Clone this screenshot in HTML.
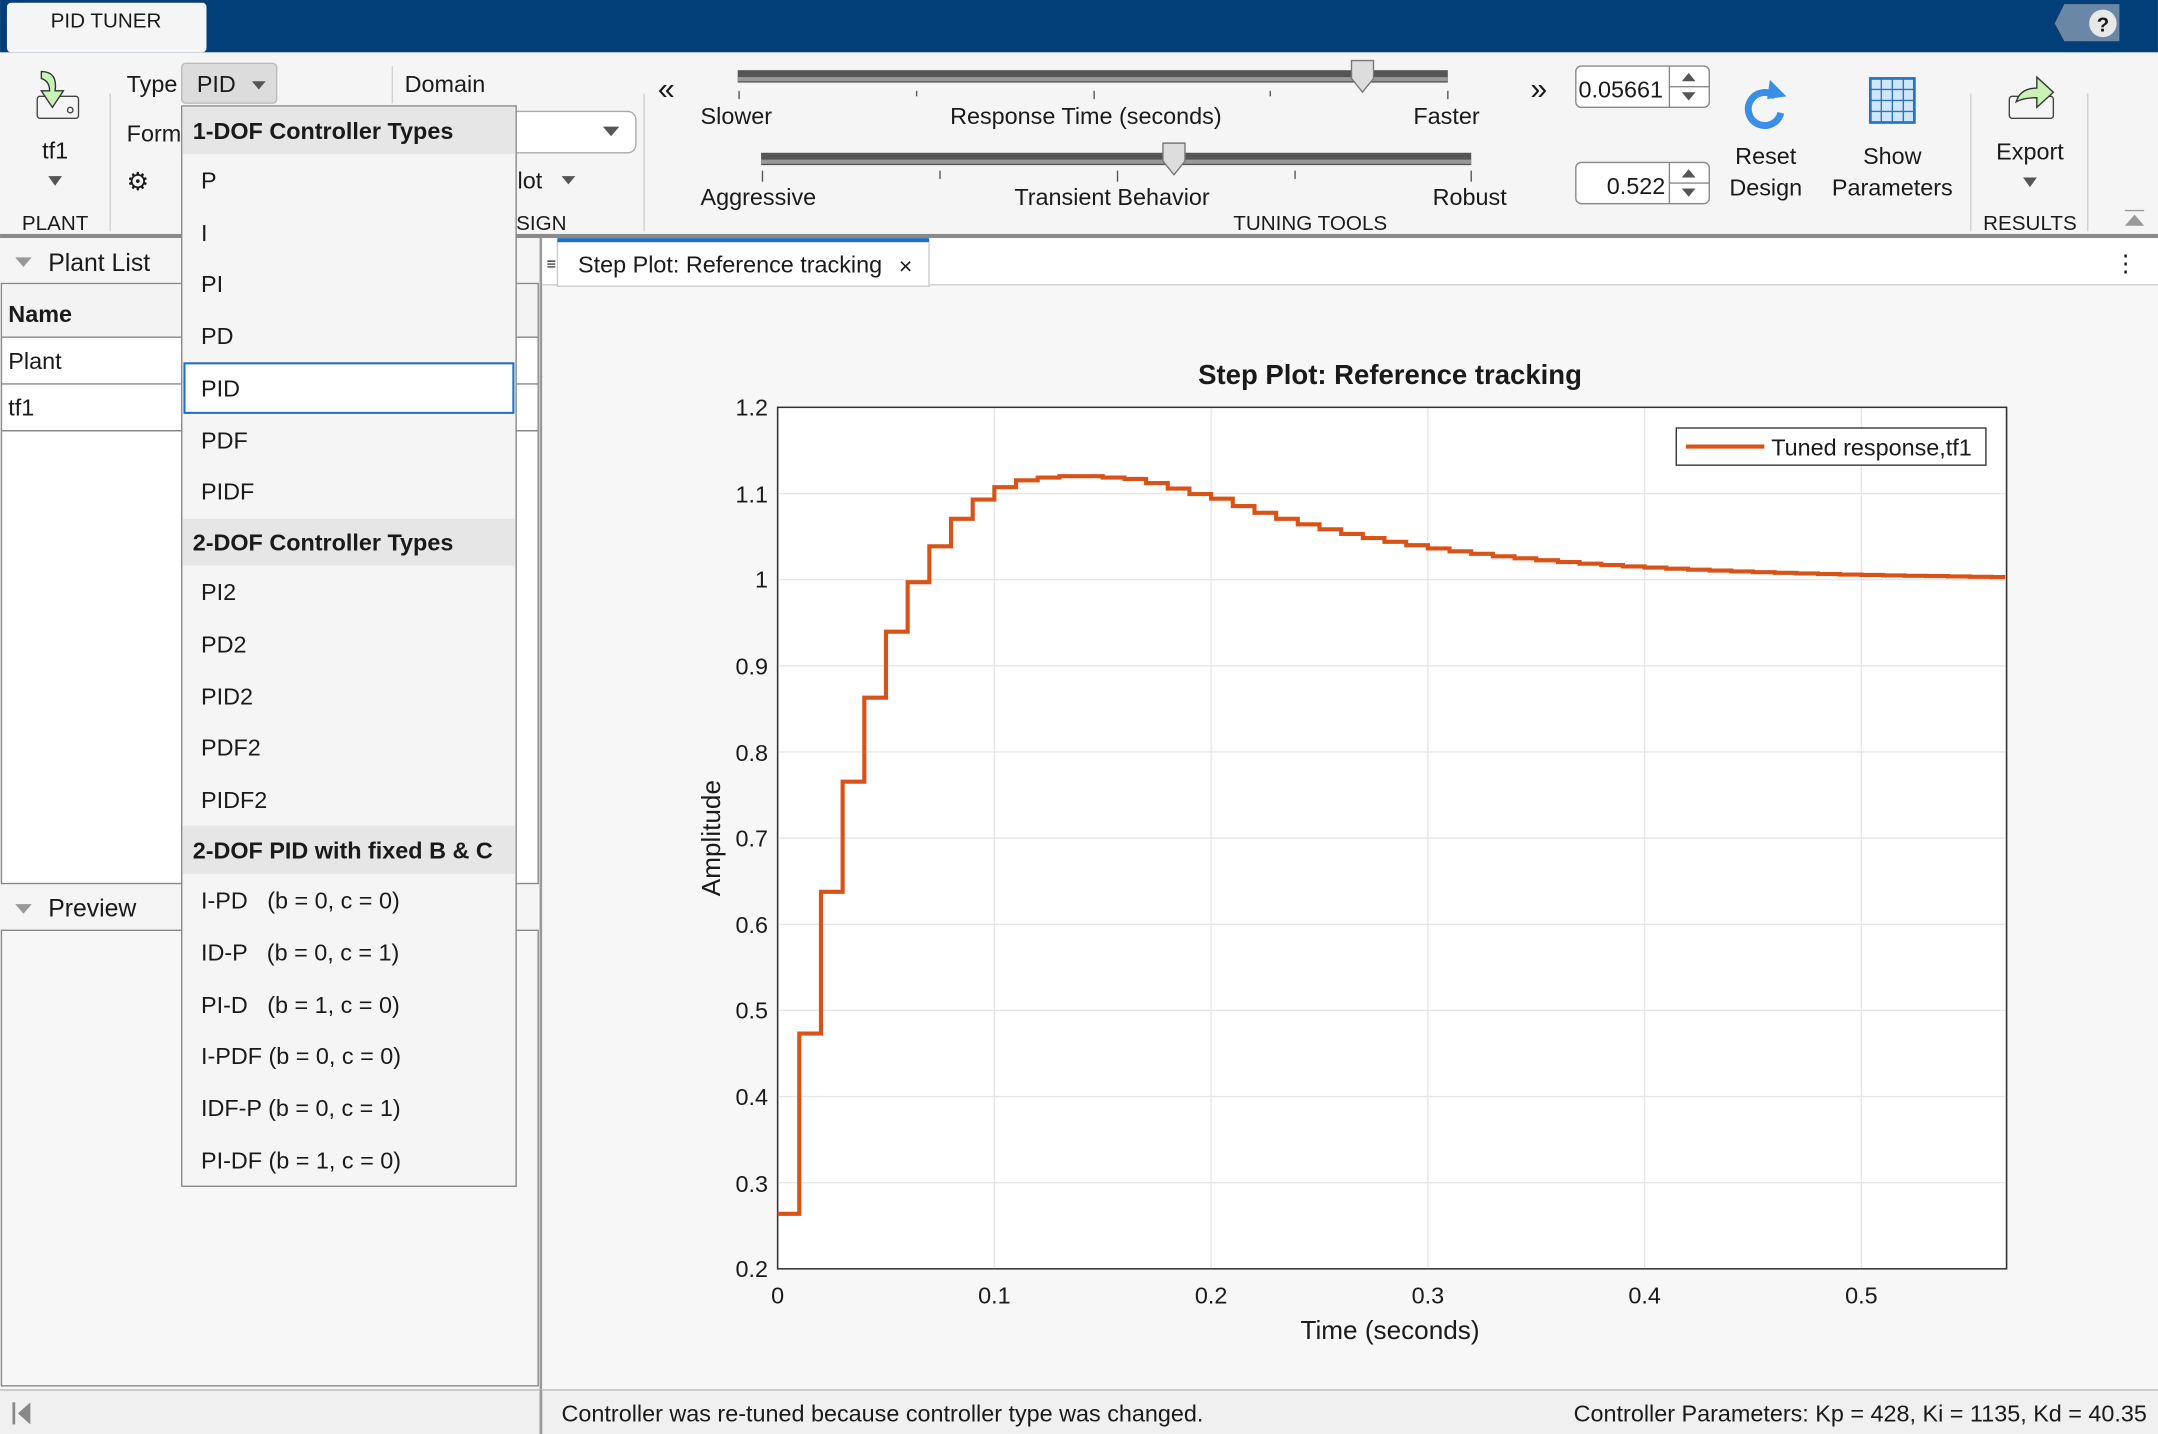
<!DOCTYPE html>
<html><head><meta charset="utf-8"><style>
html,body{margin:0;padding:0;background:#f5f5f5;overflow:hidden}
svg{display:block}
text{font-family:"Liberation Sans",sans-serif;fill:#1a1a1a}
</style></head><body>
<svg width="2158" height="1434" viewBox="0 0 1568 1042" xmlns="http://www.w3.org/2000/svg">
<rect x="0" y="0" width="1568" height="1042" fill="#f5f5f5"/>
<!-- title bar -->
<rect x="0" y="0" width="1568" height="38" fill="#023f78"/>
<rect x="5" y="2" width="145" height="36" rx="3" fill="#f5f5f5"/>
<text x="77" y="20" font-size="15" text-anchor="middle">PID TUNER</text>
<polygon points="1500,3 1540,3 1540,30 1500,30 1493,17" fill="#6b87a6"/>
<circle cx="1528" cy="17" r="10" fill="#e8e8e8"/>
<text x="1528" y="23" font-size="15" font-weight="bold" text-anchor="middle" fill="#555">?</text>
<!-- toolstrip -->
<rect x="0" y="170" width="1568" height="3" fill="#8a8a8a"/>
<g stroke="#d0d0d0"><line x1="80" y1="68" x2="80" y2="168"/><line x1="468" y1="68" x2="468" y2="168"/><line x1="1432" y1="68" x2="1432" y2="168"/><line x1="1517" y1="68" x2="1517" y2="168"/><line x1="285" y1="48" x2="285" y2="75"/></g>
<rect x="27" y="70" width="30" height="16" rx="2" fill="none" stroke="#444"/>
<circle cx="51" cy="80" r="2" fill="none" stroke="#444"/>
<path d="M30,52 Q42,52 40,66 L46,66 L38,78 L30,66 L36,66 Q36,59 30,57 Z" fill="#c8f2b6" stroke="#333" stroke-width="1"/>
<text x="40" y="115" font-size="17" text-anchor="middle">tf1</text>
<polygon points="35,128 45,128 40,135" fill="#555"/>
<text x="40" y="167" font-size="15" text-anchor="middle" fill="#666">PLANT</text>
<text x="92" y="67" font-size="17">Type</text>
<rect x="132" y="46" width="69" height="29" rx="3" fill="#dcdcdc" stroke="#bbb"/>
<text x="143" y="67" font-size="17">PID</text><polygon points="183,59 193,59 188,65" fill="#555"/>
<text x="92" y="103" font-size="17">Form</text>
<text x="92" y="138" font-size="18" fill="#777">⚙</text>
<text x="294" y="67" font-size="17">Domain</text>
<rect x="360" y="81" width="102" height="30" rx="6" fill="#fff" stroke="#aaa"/>
<polygon points="438,92 450,92 444,99" fill="#555"/>
<text x="376" y="137" font-size="17">lot</text><polygon points="408,128 418,128 413,134" fill="#555"/>
<text x="375" y="167" font-size="15" fill="#666">SIGN</text>
<text x="478" y="72" font-size="22" fill="#555">«</text>
<text x="1112" y="72" font-size="22" fill="#555">»</text>
<rect x="536" y="51" width="516" height="9" fill="#555"/><rect x="536" y="56" width="516" height="3" fill="#999"/>
<path d="M982,44 h16 v13 l-8,10 l-8,-10 z" fill="#ddd" stroke="#777"/>
<g stroke="#555"><line x1="537" y1="66" x2="537" y2="72"/><line x1="666" y1="66" x2="666" y2="70"/><line x1="795" y1="66" x2="795" y2="72"/><line x1="923" y1="66" x2="923" y2="70"/><line x1="1052" y1="66" x2="1052" y2="72"/></g>
<text x="509" y="90" font-size="17">Slower</text>
<text x="789" y="90" font-size="17" text-anchor="middle">Response Time (seconds)</text>
<text x="1027" y="90" font-size="17">Faster</text>
<rect x="553" y="111" width="516" height="9" fill="#555"/><rect x="553" y="116" width="516" height="3" fill="#999"/>
<path d="M845,104 h16 v13 l-8,10 l-8,-10 z" fill="#ddd" stroke="#777"/>
<g stroke="#555"><line x1="554" y1="124" x2="554" y2="132"/><line x1="683" y1="124" x2="683" y2="130"/><line x1="812" y1="124" x2="812" y2="132"/><line x1="941" y1="124" x2="941" y2="130"/><line x1="1069" y1="124" x2="1069" y2="132"/></g>
<text x="509" y="149" font-size="17">Aggressive</text>
<text x="808" y="149" font-size="17" text-anchor="middle">Transient Behavior</text>
<text x="1041" y="149" font-size="17">Robust</text>
<text x="952" y="167" font-size="15" text-anchor="middle" fill="#666">TUNING TOOLS</text>
<rect x="1145" y="48" width="97" height="30" rx="4" fill="#fff" stroke="#888"/><line x1="1213" y1="48" x2="1213" y2="78" stroke="#888"/><line x1="1213" y1="63" x2="1242" y2="63" stroke="#888"/>
<text x="1147" y="71" font-size="17">0.05661</text>
<polygon points="1222,59 1232,59 1227,53" fill="#555"/><polygon points="1222,67 1232,67 1227,73" fill="#555"/>
<rect x="1145" y="118" width="97" height="30" rx="4" fill="#fff" stroke="#888"/><line x1="1213" y1="118" x2="1213" y2="148" stroke="#888"/><line x1="1213" y1="133" x2="1242" y2="133" stroke="#888"/>
<text x="1210" y="141" font-size="17" text-anchor="end">0.522</text>
<polygon points="1222,129 1232,129 1227,123" fill="#555"/><polygon points="1222,137 1232,137 1227,143" fill="#555"/>
<path d="M1290,70 A12,12 0 1 0 1294,82" fill="none" stroke="#3a8ee6" stroke-width="5"/><polygon points="1286,58 1298,70 1284,72" fill="#3a8ee6"/>
<text x="1283" y="119" font-size="17" text-anchor="middle">Reset</text><text x="1283" y="142" font-size="17" text-anchor="middle">Design</text>
<rect x="1359" y="57" width="32" height="32" fill="#cfe6fb" stroke="#2a74c6" stroke-width="2"/>
<g stroke="#2a74c6"><line x1="1367" y1="57" x2="1367" y2="89"/><line x1="1375" y1="57" x2="1375" y2="89"/><line x1="1383" y1="57" x2="1383" y2="89"/><line x1="1359" y1="65" x2="1391" y2="65"/><line x1="1359" y1="73" x2="1391" y2="73"/><line x1="1359" y1="81" x2="1391" y2="81"/></g>
<text x="1375" y="119" font-size="17" text-anchor="middle">Show</text><text x="1375" y="142" font-size="17" text-anchor="middle">Parameters</text>
<rect x="1460" y="70" width="32" height="16" rx="2" fill="none" stroke="#444"/>
<path d="M1465,74 Q1468,64 1480,64 L1480,56 L1492,67 L1480,78 L1480,71 Q1470,71 1465,74Z" fill="#c8f2b6" stroke="#333"/>
<text x="1475" y="116" font-size="17" text-anchor="middle">Export</text>
<polygon points="1470,129 1480,129 1475,136" fill="#555"/>
<text x="1475" y="167" font-size="15" text-anchor="middle" fill="#666">RESULTS</text>
<polygon points="1544,164 1558,164 1551,156" fill="#999"/><line x1="1544" y1="153" x2="1558" y2="153" stroke="#999"/>
<!-- left panel -->
<rect x="0" y="173" width="392" height="837" fill="#f5f5f5"/>
<polygon points="11,187 23,187 17,194" fill="#999"/>
<text x="35" y="197" font-size="18">Plant List</text>
<rect x="1" y="206" width="390" height="436" fill="#fff" stroke="#888"/>
<rect x="2" y="207" width="388" height="38" fill="#f3f3f3"/>
<line x1="1" y1="245" x2="391" y2="245" stroke="#888"/>
<line x1="1" y1="279" x2="391" y2="279" stroke="#888"/>
<line x1="1" y1="313" x2="391" y2="313" stroke="#888"/>
<text x="6" y="234" font-size="17" font-weight="bold">Name</text>
<text x="6" y="268" font-size="17">Plant</text>
<text x="6" y="302" font-size="17">tf1</text>
<polygon points="11,657 23,657 17,664" fill="#999"/>
<text x="35" y="666" font-size="18">Preview</text>
<rect x="1" y="676" width="390" height="331" fill="#f7f7f7" stroke="#888"/>
<rect x="392" y="173" width="2" height="869" fill="#9a9a9a"/>
<!-- right doc area -->
<rect x="394" y="173" width="1174" height="837" fill="#f7f7f7"/>
<rect x="394" y="173" width="1174" height="34" fill="#fff"/>
<line x1="394" y1="207" x2="1568" y2="207" stroke="#ccc"/>
<rect x="405" y="174" width="270" height="34" fill="#fff" stroke="#ccc"/>
<rect x="405" y="173" width="270" height="3" fill="#1f6fc4"/>
<text x="397" y="196" font-size="12" fill="#999">≡</text>
<text x="420" y="198" font-size="17">Step Plot: Reference tracking</text>
<text x="653" y="199" font-size="17" fill="#555">×</text>
<text x="1536" y="197" font-size="17" fill="#555">⋮</text>
<text x="1010" y="279" font-size="20" font-weight="bold" text-anchor="middle">Step Plot: Reference tracking</text>
<rect x="565" y="296" width="893" height="626" fill="#fff" stroke="#333" stroke-width="1"/>
<g stroke="#e6e6e6">
<line x1="722.5" y1="296" x2="722.5" y2="922"/><line x1="880" y1="296" x2="880" y2="922"/><line x1="1037.5" y1="296" x2="1037.5" y2="922"/><line x1="1195" y1="296" x2="1195" y2="922"/><line x1="1352.5" y1="296" x2="1352.5" y2="922"/>
<line x1="565" y1="358.6" x2="1458" y2="358.6"/><line x1="565" y1="421.2" x2="1458" y2="421.2"/><line x1="565" y1="483.8" x2="1458" y2="483.8"/><line x1="565" y1="546.4" x2="1458" y2="546.4"/><line x1="565" y1="609" x2="1458" y2="609"/><line x1="565" y1="671.6" x2="1458" y2="671.6"/><line x1="565" y1="734.2" x2="1458" y2="734.2"/><line x1="565" y1="796.8" x2="1458" y2="796.8"/><line x1="565" y1="859.4" x2="1458" y2="859.4"/>
</g>
<rect x="565" y="296" width="893" height="626" fill="none" stroke="#333"/>
<g font-size="17" fill="#333" text-anchor="end">
<text x="558" y="302">1.2</text><text x="558" y="365">1.1</text><text x="558" y="427">1</text><text x="558" y="490">0.9</text><text x="558" y="553">0.8</text><text x="558" y="615">0.7</text><text x="558" y="678">0.6</text><text x="558" y="740">0.5</text><text x="558" y="803">0.4</text><text x="558" y="866">0.3</text><text x="558" y="928">0.2</text>
</g>
<g font-size="17" fill="#333" text-anchor="middle">
<text x="565" y="947">0</text><text x="722.5" y="947">0.1</text><text x="880" y="947">0.2</text><text x="1037.5" y="947">0.3</text><text x="1195" y="947">0.4</text><text x="1352.5" y="947">0.5</text>
</g>
<text x="1010" y="973" font-size="19" text-anchor="middle">Time (seconds)</text>
<text transform="translate(523,609) rotate(-90)" font-size="19" text-anchor="middle">Amplitude</text>
<path fill="none" stroke="#d95319" stroke-width="3" d="M565,882 H580.75 V751 H596.5 V648 H612.25 V568 H628 V507 H643.75 V459 H659.5 V423 H675.25 V397 H691 V377 H706.75 V363 H722.5 V354 H738.25 V349 H754 V347 H769.75 V346 H785.5 V346 H801.25 V347 H817 V348 H832.75 V351 H848.5 V355 H864.25 V359 H880 V362.4 H895.75 V367.7 H911.5 V372.6 H927.25 V377 H943 V381 H958.75 V384.6 H974.5 V388 H990.25 V391 H1006 V393.7 H1021.75 V396.2 H1037.5 V398.5 H1053.25 V400.6 H1069 V402.4 H1084.75 V404.2 H1100.5 V405.7 H1116.25 V407.1 H1132 V408.4 H1147.75 V409.6 H1163.5 V410.6 H1179.25 V411.6 H1195 V412.4 H1210.75 V413.2 H1226.5 V414 H1242.25 V414.6 H1258 V415.2 H1273.75 V415.8 H1289.5 V416.2 H1305.25 V416.7 H1321 V417.1 H1336.75 V417.5 H1352.5 V417.8 H1368.25 V418.1 H1384 V418.4 H1399.75 V418.6 H1415.5 V418.9 H1431.25 V419.1 H1447 V419.3 H1457"/>
<rect x="1218" y="311" width="225" height="27" fill="#fff" stroke="#333"/>
<line x1="1225" y1="324.5" x2="1282" y2="324.5" stroke="#d95319" stroke-width="3"/>
<text x="1287" y="331" font-size="17">Tuned response,tf1</text>
<!-- status bar -->
<rect x="0" y="1010" width="1568" height="32" fill="#f0f0f0"/>
<line x1="0" y1="1010" x2="1568" y2="1010" stroke="#bbb"/>
<rect x="392" y="1010" width="2" height="32" fill="#9a9a9a"/>
<rect x="9" y="1019" width="2" height="16" fill="#888"/><polygon points="22,1019 22,1035 13,1027" fill="#888"/>
<text x="408" y="1033" font-size="17">Controller was re-tuned because controller type was changed.</text>
<text x="1560" y="1033" font-size="17" text-anchor="end">Controller Parameters: Kp = 428, Ki = 1135, Kd = 40.35</text>
<!-- dropdown -->
<rect x="132" y="77" width="243" height="785" fill="#f5f5f5" stroke="#888"/>
<rect x="133" y="78" width="241" height="34" fill="#e6e6e6"/>
<rect x="133" y="377" width="241" height="34" fill="#e6e6e6"/>
<rect x="133" y="600" width="241" height="35" fill="#e6e6e6"/>
<rect x="134" y="264" width="239" height="36" fill="#fff" stroke="#1f6fc4" stroke-width="1.5"/>
<g font-size="17">
<text x="140" y="101" font-weight="bold">1-DOF Controller Types</text>
<text x="146" y="137">P</text><text x="146" y="175">I</text><text x="146" y="212">PI</text><text x="146" y="250">PD</text><text x="146" y="288">PID</text><text x="146" y="326">PDF</text><text x="146" y="363">PIDF</text>
<text x="140" y="400" font-weight="bold">2-DOF Controller Types</text>
<text x="146" y="436">PI2</text><text x="146" y="474">PD2</text><text x="146" y="512">PID2</text><text x="146" y="549">PDF2</text><text x="146" y="587">PIDF2</text>
<text x="140" y="624" font-weight="bold">2-DOF PID with fixed B &amp; C</text>
<text x="146" y="660" xml:space="preserve">I-PD   (b = 0, c = 0)</text>
<text x="146" y="698" xml:space="preserve">ID-P   (b = 0, c = 1)</text>
<text x="146" y="736" xml:space="preserve">PI-D   (b = 1, c = 0)</text>
<text x="146" y="773">I-PDF (b = 0, c = 0)</text>
<text x="146" y="811">IDF-P (b = 0, c = 1)</text>
<text x="146" y="849">PI-DF (b = 1, c = 0)</text>
</g>
</svg>
</body></html>
